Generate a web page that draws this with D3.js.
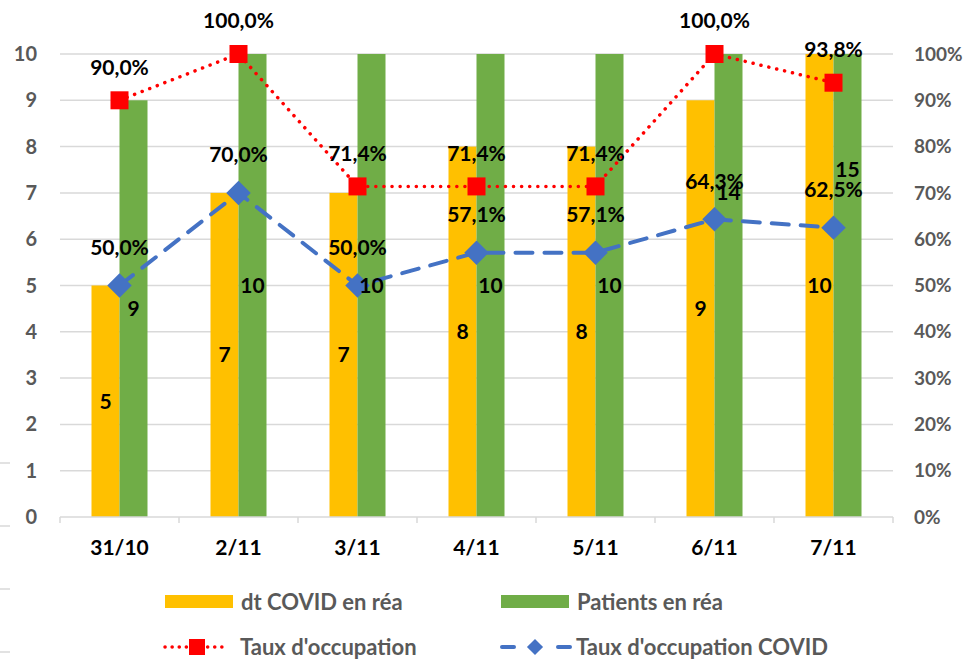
<!DOCTYPE html>
<html>
<head>
<meta charset="utf-8">
<script src="https://cdn.jsdelivr.net/npm/d3@7"></script>
<style>
  body { margin: 0; background: #fff; }
  text { font-family: Lato, "Open Sans", sans-serif; font-weight: bold; }
</style>
</head>
<body>
<div id="chart"></div>
<script>
// data
const days = ["31/10", "2/11", "3/11", "4/11", "5/11", "6/11", "7/11"];
const dtCovid = [5, 7, 7, 8, 8, 9, 10];
const patients = [9, 10, 10, 10, 10, 14, 15];
const tauxOcc = [0.90, 1.00, 0.714, 0.714, 0.714, 1.00, 0.938];
const tauxCovid = [0.50, 0.70, 0.50, 0.571, 0.571, 0.643, 0.625];
const leftTicks = [0, 1, 2, 3, 4, 5, 6, 7, 8, 9, 10];
const rightTicks = [0, 0.1, 0.2, 0.3, 0.4, 0.5, 0.6, 0.7, 0.8, 0.9, 1];

const width = 973, height = 660;
const margin = { top: 54, right: 80, bottom: 143, left: 60 };

const svg = d3.select("#chart").append("svg")
    .attr("width", width)
    .attr("height", height);

const x = d3.scaleBand().domain(days).range([margin.left, width - margin.right]).padding(0);
const inner = d3.scaleBand().domain(["dt", "pat"]).range([0, x.bandwidth()])
    .paddingInner(0).paddingOuter(1.125);
const y = d3.scaleLinear().domain([0, 10]).range([height - margin.bottom, margin.top]);
const y2 = d3.scaleLinear().domain([0, 1]).range([height - margin.bottom, margin.top]);

const gray = "#595959";
const fmtPct = v => d3.format(".1%")(v).replace(".", ",");

// gridlines
svg.append("g")
    .selectAll("line")
    .data(leftTicks.slice(1))
    .enter().append("line")
    .attr("x1", margin.left).attr("x2", width - margin.right)
    .attr("y1", d => y(d)).attr("y2", d => y(d))
    .attr("stroke", "#d9d9d9").attr("stroke-width", 1.5);

// stray ticks from neighbouring chart at left edge
svg.append("g")
    .selectAll("line")
    .data([0, 1, 2, 3])
    .enter().append("line")
    .attr("x1", 0).attr("x2", 10)
    .attr("y1", d => 463 + d * 63).attr("y2", d => 463 + d * 63)
    .attr("stroke", "#d9d9d9").attr("stroke-width", 1.5);

// bars (clipped at the top of the axis)
svg.append("clipPath").attr("id", "plot-clip")
    .append("rect")
    .attr("x", margin.left).attr("y", margin.top)
    .attr("width", width - margin.left - margin.right)
    .attr("height", height - margin.top - margin.bottom);

const barsG = svg.append("g").attr("clip-path", "url(#plot-clip)");
barsG.selectAll(".bar-dt")
    .data(days)
    .enter().append("rect")
    .attr("class", "bar-dt")
    .attr("x", d => x(d) + inner("dt"))
    .attr("width", inner.bandwidth())
    .attr("y", (d, i) => y(dtCovid[i]))
    .attr("height", (d, i) => y(0) - y(dtCovid[i]))
    .attr("fill", "#FFC000");
barsG.selectAll(".bar-pat")
    .data(days)
    .enter().append("rect")
    .attr("class", "bar-pat")
    .attr("x", d => x(d) + inner("pat"))
    .attr("width", inner.bandwidth())
    .attr("y", (d, i) => y(patients[i]))
    .attr("height", (d, i) => y(0) - y(patients[i]))
    .attr("fill", "#70AD47");

// x axis line and boundary ticks
svg.append("line")
    .attr("x1", margin.left).attr("x2", width - margin.right)
    .attr("y1", y(0)).attr("y2", y(0))
    .attr("stroke", "#d9d9d9").attr("stroke-width", 1.5);
svg.append("g")
    .selectAll("line")
    .data(days.concat(["end"]))
    .enter().append("line")
    .attr("x1", (d, i) => margin.left + i * x.bandwidth())
    .attr("x2", (d, i) => margin.left + i * x.bandwidth())
    .attr("y1", y(0)).attr("y2", y(0) + 6)
    .attr("stroke", "#d9d9d9").attr("stroke-width", 1.5);

// axis labels
svg.append("g")
    .selectAll("text")
    .data(leftTicks)
    .enter().append("text")
    .attr("x", 37).attr("y", d => y(d))
    .attr("dy", "0.35em")
    .attr("text-anchor", "end")
    .attr("fill", gray).style("font-size", "20px")
    .text(d => d);
svg.append("g")
    .selectAll("text")
    .data(rightTicks)
    .enter().append("text")
    .attr("x", 914).attr("y", d => y2(d))
    .attr("dy", "0.35em")
    .attr("fill", gray).style("font-size", "19px")
    .text(d => Math.round(d * 100) + "%");
svg.append("g")
    .selectAll("text")
    .data(days)
    .enter().append("text")
    .attr("x", d => x(d) + x.bandwidth() / 2).attr("y", y(0) + 31)
    .attr("dy", "0.35em")
    .attr("text-anchor", "middle")
    .attr("fill", "#000").style("font-size", "21px")
    .text(d => d);

// lines
const cx = d => x(d) + x.bandwidth() / 2;
const line2 = d3.line().x(d => cx(d.day)).y(d => y2(d.v));
const occData = days.map((d, i) => ({ day: d, v: tauxOcc[i] }));
const covData = days.map((d, i) => ({ day: d, v: tauxCovid[i] }));

svg.append("path")
    .datum(covData)
    .attr("d", line2)
    .attr("fill", "none")
    .attr("stroke", "#4472C4").attr("stroke-width", 4)
    .attr("stroke-dasharray", "17,12").attr("stroke-linecap", "round");
svg.append("path")
    .datum(occData)
    .attr("d", line2)
    .attr("fill", "none")
    .attr("stroke", "#FF0000").attr("stroke-width", 3.5)
    .attr("stroke-dasharray", "0.1,8").attr("stroke-linecap", "round");

svg.append("g")
    .selectAll("rect")
    .data(occData)
    .enter().append("rect")
    .attr("x", d => cx(d.day) - 9).attr("y", d => y2(d.v) - 9)
    .attr("width", 18).attr("height", 18)
    .attr("fill", "#FF0000");
svg.append("g")
    .selectAll("path")
    .data(covData)
    .enter().append("path")
    .attr("d", d3.symbol().type(d3.symbolSquare).size(300))
    .attr("transform", d => `translate(${cx(d.day)},${y2(d.v)}) rotate(45)`)
    .attr("fill", "#4472C4");

// data labels
const lbl = svg.append("g").style("font-size", "21px").attr("fill", "#000").attr("text-anchor", "middle");
lbl.selectAll(".l-dt")
    .data(days)
    .enter().append("text")
    .attr("x", d => x(d) + inner("dt") + inner.bandwidth() / 2)
    .attr("y", (d, i) => y(dtCovid[i] / 2))
    .attr("dy", "0.35em")
    .text((d, i) => dtCovid[i]);
lbl.selectAll(".l-pat")
    .data(days)
    .enter().append("text")
    .attr("x", d => x(d) + inner("pat") + inner.bandwidth() / 2)
    .attr("y", (d, i) => y(patients[i] / 2))
    .attr("dy", "0.35em")
    .text((d, i) => patients[i]);
lbl.selectAll(".l-occ")
    .data(occData)
    .enter().append("text")
    .attr("x", d => cx(d.day))
    .attr("y", d => y2(d.v) - 33)
    .attr("dy", "0.35em")
    .text(d => fmtPct(d.v));
lbl.selectAll(".l-cov")
    .data(covData)
    .enter().append("text")
    .attr("x", d => cx(d.day))
    .attr("y", d => y2(d.v) - 38)
    .attr("dy", "0.35em")
    .text(d => fmtPct(d.v));

// legend
const legend = svg.append("g").style("font-size", "22px").attr("fill", gray);
const legItems = [
    { label: "dt COVID en réa", type: "bar", color: "#FFC000", lx: 165, ly: 602 },
    { label: "Patients en réa", type: "bar", color: "#70AD47", lx: 501, ly: 602 },
    { label: "Taux d'occupation", type: "occ", color: "#FF0000", lx: 164, ly: 647 },
    { label: "Taux d'occupation COVID", type: "cov", color: "#4472C4", lx: 500, ly: 647 }
];
legItems.forEach(it => {
    const g = legend.append("g").attr("transform", `translate(${it.lx},${it.ly})`);
    if (it.type === "bar") {
        g.append("rect").attr("x", 0).attr("y", -7).attr("width", 68).attr("height", 13).attr("fill", it.color);
    } else if (it.type === "occ") {
        g.append("line").attr("x1", 1).attr("x2", 63).attr("y1", 0).attr("y2", 0)
            .attr("stroke", it.color).attr("stroke-width", 3.5)
            .attr("stroke-dasharray", "0.1,7").attr("stroke-linecap", "round");
        g.append("rect").attr("x", 25).attr("y", -8).attr("width", 16).attr("height", 16).attr("fill", it.color);
    } else {
        g.append("line").attr("x1", 2).attr("x2", 70).attr("y1", 0).attr("y2", 0)
            .attr("stroke", it.color).attr("stroke-width", 4)
            .attr("stroke-dasharray", "12,44").attr("stroke-linecap", "round");
        g.append("path").attr("d", d3.symbol().type(d3.symbolSquare).size(130))
            .attr("transform", "translate(35,0) rotate(45)").attr("fill", it.color);
    }
    g.append("text").attr("x", 76).attr("y", 0).attr("dy", "0.35em").text(it.label);
});
</script>
</body>
</html>
